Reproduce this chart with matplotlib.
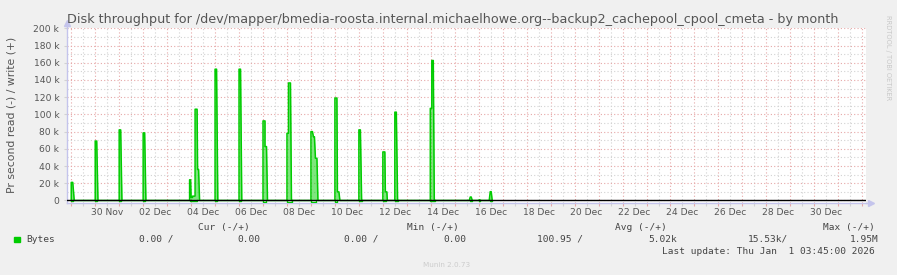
import matplotlib
matplotlib.use('Agg')
import matplotlib.pyplot as plt
from matplotlib.patches import Rectangle
from datetime import datetime, timedelta

W, H = 897, 275

title = ("Disk throughput for /dev/mapper/bmedia-roosta.internal.michaelhowe.org"
         "--backup2_cachepool_cpool_cmeta - by month")
y_label = "Pr second read (-) / write (+)"

t_start = datetime(2025, 11, 28, 19, 45)
t_end = datetime(2026, 1, 1, 3, 45)

# write (+) trace, vertices (2 h resolution)
write_times = [
    "2025-11-29 00:00", "2025-11-29 00:00", "2025-11-29 01:30", "2025-11-29 03:00",
    "2025-11-30 00:00", "2025-11-30 00:00", "2025-11-30 01:30", "2025-11-30 02:45",
    "2025-12-01 00:00", "2025-12-01 00:00", "2025-12-01 01:30", "2025-12-01 02:45",
    "2025-12-02 00:00", "2025-12-02 00:00", "2025-12-02 01:30", "2025-12-02 02:45",
    "2025-12-03 22:30", "2025-12-03 22:30", "2025-12-03 23:30", "2025-12-04 00:00",
    "2025-12-04 01:30", "2025-12-04 01:30", "2025-12-04 04:00", "2025-12-04 04:00",
    "2025-12-04 06:00", "2025-12-04 06:30", "2025-12-04 07:30", "2025-12-04 08:30",
    "2025-12-05 00:00", "2025-12-05 00:00", "2025-12-05 01:30", "2025-12-05 02:45",
    "2025-12-06 00:00", "2025-12-06 00:00", "2025-12-06 01:30", "2025-12-06 02:45",
    "2025-12-07 00:00", "2025-12-07 00:00", "2025-12-07 02:00", "2025-12-07 02:00",
    "2025-12-07 03:30", "2025-12-07 04:30",
    "2025-12-08 00:00", "2025-12-08 00:00", "2025-12-08 01:30", "2025-12-08 01:30",
    "2025-12-08 03:30", "2025-12-08 04:30",
    "2025-12-09 00:00", "2025-12-09 00:00", "2025-12-09 01:30", "2025-12-09 02:30",
    "2025-12-09 03:30", "2025-12-09 04:30", "2025-12-09 06:00", "2025-12-09 07:00",
    "2025-12-10 00:00", "2025-12-10 00:00", "2025-12-10 02:00", "2025-12-10 02:30",
    "2025-12-10 04:00", "2025-12-10 05:00",
    "2025-12-11 00:00", "2025-12-11 00:00", "2025-12-11 01:30", "2025-12-11 02:45",
    "2025-12-12 00:00", "2025-12-12 00:00", "2025-12-12 02:00", "2025-12-12 02:30",
    "2025-12-12 04:00", "2025-12-12 04:30",
    "2025-12-12 12:00", "2025-12-12 12:00", "2025-12-12 13:30", "2025-12-12 14:45",
    "2025-12-13 23:30", "2025-12-13 23:30", "2025-12-14 01:00", "2025-12-14 01:00",
    "2025-12-14 02:30", "2025-12-14 03:30",
    "2025-12-15 14:30", "2025-12-15 15:30", "2025-12-15 16:30", "2025-12-15 17:30",
    "2025-12-16 00:00", "2025-12-16 00:30", "2025-12-16 01:00", "2025-12-16 01:30",
    "2025-12-16 10:30", "2025-12-16 11:30", "2025-12-16 12:30", "2025-12-16 13:30",
]
write_values = [
    0, 21000, 21000, 0,
    0, 69000, 69000, 0,
    0, 82000, 82000, 0,
    0, 78500, 78500, 0,
    0, 24000, 24000, 3500,
    3500, 5000, 5000, 106000,
    106000, 36000, 36000, 0,
    0, 152500, 152500, 0,
    0, 152500, 152500, 0,
    0, 92400, 92400, 62600,
    62600, 0,
    0, 78000, 78000, 136500,
    136500, 0,
    0, 80000, 80000, 74000,
    74000, 49000, 49000, 0,
    0, 119000, 119000, 10000,
    10000, 0,
    0, 82000, 82000, 0,
    0, 56400, 56400, 10000,
    10000, 0,
    0, 102600, 102600, 0,
    0, 107000, 107000, 162600,
    162600, 0,
    0, 4000, 4000, 0,
    0, 800, 800, 0,
    0, 10200, 10200, 0,
]

# read (-) trace: small bursts drawn below zero
read_start = ["2025-11-29 00:00", "2025-11-30 00:00", "2025-12-01 00:00", "2025-12-02 00:00",
              "2025-12-03 22:30", "2025-12-05 00:00", "2025-12-06 00:00", "2025-12-07 00:00",
              "2025-12-08 00:00", "2025-12-09 00:00", "2025-12-10 00:00", "2025-12-11 00:00",
              "2025-12-12 00:00", "2025-12-12 12:00", "2025-12-13 23:00", "2025-12-15 15:00",
              "2025-12-16 00:00", "2025-12-16 11:00"]
read_end = ["2025-11-29 02:00", "2025-11-30 02:00", "2025-12-01 02:00", "2025-12-02 02:00",
            "2025-12-04 06:00", "2025-12-05 02:00", "2025-12-06 02:00", "2025-12-07 02:30",
            "2025-12-08 05:00", "2025-12-09 05:30", "2025-12-10 02:30", "2025-12-11 03:00",
            "2025-12-12 03:00", "2025-12-12 15:00", "2025-12-14 04:00", "2025-12-15 17:00",
            "2025-12-16 01:30", "2025-12-16 13:00"]
read_values = [1000, 1000, 1000, 1000, 700, 1000, 1000, 2000, 2000, 2000, 2000,
               1000, 1000, 1000, 1000, 1000, 1000, 1000]

label_days = ["2025-11-30", "2025-12-02", "2025-12-04", "2025-12-06", "2025-12-08",
              "2025-12-10", "2025-12-12", "2025-12-14", "2025-12-16", "2025-12-18",
              "2025-12-20", "2025-12-22", "2025-12-24", "2025-12-26", "2025-12-28",
              "2025-12-30"]
y_ticks = [0, 20000, 40000, 60000, 80000, 100000, 120000, 140000, 160000, 180000, 200000]

legend_headers = ["Cur (-/+)", "Min (-/+)", "Avg (-/+)", "Max (-/+)"]
legend_values = ["0.00 /", "0.00", "0.00 /", "0.00", "100.95 /", "5.02k", "15.53k/", "1.95M"]
last_update = "Last update: Thu Jan  1 03:45:00 2026"
version = "Munin 2.0.73"

GREEN = '#00cc00'
MAJOR = '#e6a8a8'
MINOR = '#d2d2d2'
AXIS = '#c4c4ec'
TEXT = '#555555'


def px(x, y):
    return x / W, 1 - y / H


def ts(s):
    return datetime.strptime(s, "%Y-%m-%d %H:%M")


fig = plt.figure(figsize=(W / 100, H / 100), dpi=100)
fig.patch.set_facecolor('#f0f0f0')
ax = fig.add_axes([67 / W, (H - 202.7) / H, (866 - 67) / W, (202.7 - 28.3) / H])
ax.set_facecolor('white')

ax.set_ylim(-2600, 200000)

# grid: red at midnight, grey at noon; labels on the noon of every other day
midnights = [datetime(2025, 11, 29) + timedelta(days=i) for i in range(34)]
noons = [datetime(2025, 11, 28, 12) + timedelta(days=i) for i in range(34)]
ax.set_xticks(midnights)
ax.set_xticks(noons, minor=True)
labels = [d.strftime("%d %b") if d.strftime("%Y-%m-%d") in label_days else "" for d in noons]
ax.set_xticklabels([""] * len(midnights))
ax.set_xticklabels(labels, minor=True)
ax.set_xlim(t_start, t_end)

ax.set_yticks(y_ticks)
ax.set_yticks([v + 10000 for v in y_ticks[:-1]], minor=True)
ax.set_yticklabels(["0" if v == 0 else "%d k" % (v // 1000) for v in y_ticks])

dots = (0, (1, 2))
ax.grid(True, which='major', color=MAJOR, linestyle=dots, linewidth=0.8)
ax.grid(True, which='minor', color=MINOR, linestyle=dots, linewidth=0.8)
ax.set_axisbelow(True)

ax.tick_params(axis='x', which='major', length=2.5, color=MAJOR, width=0.8)
ax.tick_params(axis='x', which='minor', length=2.5, color=MINOR, width=0.8,
               labelsize=6.6, labelcolor=TEXT, pad=1.5)
ax.tick_params(axis='y', which='major', length=2, color=MINOR, width=0.8,
               labelsize=6.6, labelcolor=TEXT, pad=3.5)
ax.tick_params(axis='y', which='minor', length=0)

for side in ['top', 'right']:
    ax.spines[side].set_visible(False)
for side in ['left', 'bottom']:
    ax.spines[side].set_color(AXIS)
    ax.spines[side].set_linewidth(1)
ax.plot([0], [1.03], marker='^', color=AXIS, markersize=4, transform=ax.transAxes, clip_on=False)
ax.plot([0, 0], [1, 1.03], color=AXIS, lw=1, transform=ax.transAxes, clip_on=False)
ax.plot([1.006], [0], marker='>', color=AXIS, markersize=4, transform=ax.transAxes, clip_on=False)
ax.plot([1, 1.006], [0, 0], color=AXIS, lw=1, transform=ax.transAxes, clip_on=False)

# read trace
for s, e, v in zip(read_start, read_end, read_values):
    ax.plot([ts(s), ts(s), ts(e), ts(e)], [0, -v, -v, 0], color=GREEN, lw=1, zorder=3)

# write trace
wt = [ts(s) for s in write_times]
ax.fill_between(wt, 0, write_values, color=GREEN, alpha=0.5, linewidth=0, zorder=3)
ax.plot(wt, write_values, color=GREEN, lw=1.1, zorder=4)

ax.axhline(0, color='black', lw=1, zorder=5)

# texts
fig.text(*px(67, 19), title, fontsize=9.2, color=TEXT, va='center', ha='left')
fig.text(*px(12, 114.5), y_label, fontsize=7.8, color=TEXT, rotation=90, va='center', ha='center')
fig.text(*px(888, 58), "RRDTOOL / TOBI OETIKER", fontsize=4.8, color='#c8c8c8',
         rotation=270, va='center', ha='center')

mono = dict(family='DejaVu Sans Mono', fontsize=6.8, color='#444444', va='center')
for x, s in zip([198, 406.7, 615, 822.7], legend_headers):
    fig.text(*px(x, 227.7), s, ha='left', **mono)
fig.patches.append(Rectangle(px(14, 242.3), 6 / W, 5 / H, transform=fig.transFigure,
                             color=GREEN, figure=fig))
fig.text(*px(26.7, 239.5), "Bytes", ha='left', **mono)
for x, s in zip([139.3, 237.3, 344, 443.3, 537.3, 648.3, 748.3, 850], legend_values):
    fig.text(*px(x, 239.5), s, ha='left', **mono)
fig.text(*px(661.7, 251.7), last_update, ha='left', **mono)
fig.text(*px(423, 265), version, fontsize=5.2, color='#cccccc', va='center', ha='left')

fig.savefig("out.png", dpi=100, facecolor=fig.get_facecolor())
